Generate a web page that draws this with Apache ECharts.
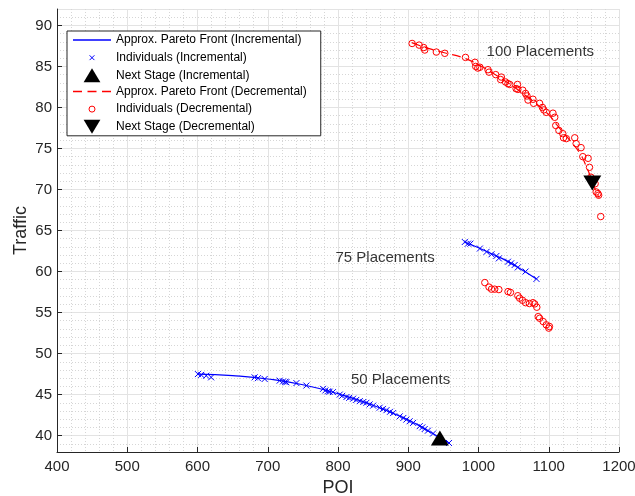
<!DOCTYPE html>
<html>
<head>
<meta charset="utf-8">
<script src="https://cdn.jsdelivr.net/npm/echarts@6/dist/echarts.min.js"></script>
<style>
  html, body { margin: 0; padding: 0; background: #fff; }
  #chart { width: 635px; height: 496px; }
</style>
</head>
<body>
<div id="chart"></div>
<script>
// x ticks and axis text
var xTicks = [400, 500, 600, 700, 800, 900, 1000, 1100, 1200]
var xName = 'POI'
var yName = 'Traffic'

// 50 placements (incremental)
var incFront50 = [[600, 47.5], [650, 47.3], [700, 46.9], [750, 46.2], [800, 45.1], [850, 43.7], [900, 41.9], [930, 40.5], [958, 39.1]]
var incInd50 = [
    [600.6, 47.5], [605.3, 47.4], [612.4, 47.3], [619.4, 47.1], [681.3, 47.1], [686, 47.0], [695.6, 46.9],
    [717, 46.7], [721.8, 46.6], [726.5, 46.5], [740.8, 46.4], [755, 46.1], [778.7, 45.7], [785.8, 45.4],
    [792.8, 45.3], [802.5, 45.0], [812, 44.7], [821.5, 44.5], [831, 44.2], [840.5, 44.0], [850, 43.65],
    [859.3, 43.4], [869, 43.1], [878.5, 42.75], [887.9, 42.35], [897.3, 41.95], [906.9, 41.55],
    [916.3, 41.15], [923.4, 40.8], [935.3, 40.25], [958, 39.1],
    [725, 46.55], [782, 45.5], [788, 45.35], [806, 44.85], [816, 44.6], [826, 44.35], [836, 44.1],
    [845, 43.8], [864, 43.25], [874, 42.9], [893, 42.15], [902, 41.75], [920, 41.0], [928, 40.6]
]
var incNext50 = [[945, 39.7]]

// 75 placements
var incFront75 = [[980, 63.6], [1000, 62.9], [1020, 62.1], [1040, 61.3], [1060, 60.3], [1082.5, 59.1]]
var incInd75 = [
    [980.5, 63.6], [985, 63.4], [988.5, 63.4], [1002, 62.8], [1011.5, 62.4], [1018.5, 62.1], [1025.5, 61.9],
    [1029, 61.6], [1042, 61.2], [1046.5, 61.0], [1051.5, 60.8], [1056, 60.5], [1067, 60.0], [1082.5, 59.1]
]
var decInd75 = [
    [1009, 58.65], [1015, 58.1], [1018.5, 57.85], [1023, 57.85], [1029, 57.8], [1042, 57.55], [1045.5, 57.45],
    [1056, 57.05], [1058.5, 56.75], [1062.5, 56.5], [1067, 56.2], [1072.5, 56.1], [1077.5, 56.2], [1080, 56.05],
    [1083, 55.65], [1085, 54.5], [1087, 54.3], [1092, 53.9], [1096.5, 53.5], [1100, 53.1], [1101, 53.3]
]

// 100 placements (decremental)
var decFront100 = [[905, 87.9], [925, 87.3], [950, 86.7], [980, 86.0], [1000, 85.2], [1020, 84.2], [1040, 83.1],
    [1060, 81.9], [1080, 80.6], [1100, 79.1], [1115, 77.5], [1130, 76.0], [1145, 74.3], [1155, 72.5],
    [1162, 71.0], [1168, 69.6], [1172, 69.0]]
var decInd100 = [
    [905.5, 87.8], [915.5, 87.6], [922, 87.3], [923.5, 87.0], [940, 86.75], [952, 86.6], [981.5, 86.1],
    [995, 85.5], [996, 85.0], [999, 84.8], [1002, 84.9], [1013.5, 84.6], [1015, 84.3], [1024.5, 84.0],
    [1032.5, 83.7], [1031.5, 83.4], [1038.5, 83.1], [1042, 82.9], [1044.5, 82.8], [1055.5, 82.8],
    [1053.5, 82.3], [1056, 82.2], [1063, 82.1], [1067, 81.7], [1069, 81.4], [1070.5, 80.9], [1077.5, 81.0],
    [1078.5, 80.5], [1087, 80.5], [1091, 80.0], [1093, 79.7], [1096.5, 79.4], [1106, 79.3], [1108.5, 78.8],
    [1110, 77.8], [1114.5, 77.2], [1120, 76.8], [1121, 76.3], [1125, 76.2], [1137, 76.3], [1139, 75.6],
    [1146, 75.1], [1148.5, 74.0], [1156, 73.8], [1158, 72.7], [1160, 71.5], [1166, 70.7], [1167.5, 69.7],
    [1170, 69.5], [1171, 69.3], [1174, 66.7]
]
var decNext100 = [[1162, 70.8]]

// annotations
var placementLabels = [[1088, 86.75, '100 Placements'], [867, 61.65, '75 Placements'], [889, 46.85, '50 Placements']]

var BLUE = '#0000ff'
var RED = '#ff0000'
var INK = '#262626'
var FONT = 'Liberation Sans, Arial, Helvetica, sans-serif'

var xSym = 'path://M0,0L10,10M10,0L0,10'
var triUp = 'path://M0,15L9,0L18,15z'
var triDown = 'path://M0,0L18,0L9,15z'

var chart = echarts.init(document.getElementById('chart'))

var option = {
    animation: false,
    backgroundColor: '#fff',
    grid: { left: 57, right: 16, top: 9, bottom: 44, outerBoundsMode: 'none', containLabel: false },
    legend: {
        orient: 'vertical',
        left: 67, top: 31,
        padding: [1, 14, 1, 6],
        itemWidth: 38, itemHeight: 14, itemGap: 0,
        backgroundColor: '#fff',
        borderColor: INK, borderWidth: 1,
        selectedMode: false,
        textStyle: { fontFamily: FONT, fontSize: 12, lineHeight: 16.2, color: '#000' },
        data: [
            { name: 'Approx. Pareto Front (Incremental)', icon: 'path://M0,0h38v1.5h-38z', itemStyle: { color: BLUE, borderWidth: 0 } },
            { name: 'Individuals (Incremental)', icon: 'path://M0,0M14,14M4.6,4.6L9.4,9.4M9.4,4.6L4.6,9.4', itemStyle: { color: 'none', borderColor: BLUE, borderWidth: 1 } },
            { name: 'Next Stage (Incremental)', icon: triUp, itemStyle: { color: '#000', borderWidth: 0 } },
            { name: 'Approx. Pareto Front (Decremental)', icon: 'path://M0,0h9v1.5h-9zM14.5,0h9v1.5h-9zM29,0h9v1.5h-9z', itemStyle: { color: RED, borderWidth: 0 } },
            { name: 'Individuals (Decremental)', icon: 'path://M0,0M14,14M10,7A3,3,0,1,1,4,7A3,3,0,1,1,10,7', itemStyle: { color: 'none', borderColor: RED, borderWidth: 1 } },
            { name: 'Next Stage (Decremental)', icon: triDown, itemStyle: { color: '#000', borderWidth: 0 } }
        ]
    },
    xAxis: {
        type: 'value', min: xTicks[0], max: xTicks[xTicks.length - 1], interval: 100,
        name: xName, nameLocation: 'middle', nameGap: 25,
        nameTextStyle: { fontFamily: FONT, fontSize: 18, color: INK },
        axisLine: { show: true, onZero: false, lineStyle: { color: INK, width: 1 } },
        axisTick: { show: true, inside: true, length: 5, lineStyle: { color: INK } },
        axisLabel: { fontFamily: FONT, fontSize: 15, color: INK, margin: 7, formatter: function (v) { return String(v) } },
        splitLine: { show: true, lineStyle: { color: '#e3e3e3', width: 1 } },
        minorTick: { show: false, splitNumber: 5 },
        minorSplitLine: { show: true, lineStyle: { color: '#d6d6d6', width: 1, type: [1, 2] } }
    },
    yAxis: {
        type: 'value', min: 38, max: 92, splitNumber: 10,
        name: yName, nameLocation: 'middle', nameGap: 36, nameMoveOverlap: false,
        nameTextStyle: { fontFamily: FONT, fontSize: 18, color: INK, verticalAlign: 'middle' },
        axisLine: { show: true, onZero: false, lineStyle: { color: INK, width: 1 } },
        axisTick: { show: true, inside: true, length: 5, lineStyle: { color: INK } },
        axisLabel: { fontFamily: FONT, fontSize: 15, color: INK, margin: 5, showMinLabel: false, showMaxLabel: false },
        splitLine: { show: true, lineStyle: { color: '#e3e3e3', width: 1 } },
        minorTick: { show: false, splitNumber: 5 },
        minorSplitLine: { show: true, lineStyle: { color: '#d6d6d6', width: 1, type: [1, 2] } }
    },
    series: [
        {
            name: 'Approx. Pareto Front (Incremental)', type: 'line', data: incFront50,
            symbol: 'none', smooth: true, lineStyle: { color: BLUE, width: 1.2 }, itemStyle: { color: BLUE }, z: 2
        },
        {
            name: 'Approx. Pareto Front (Incremental)', type: 'line', data: incFront75,
            symbol: 'none', smooth: true, lineStyle: { color: BLUE, width: 1.2 }, itemStyle: { color: BLUE }, z: 2
        },
        {
            name: 'Individuals (Incremental)', type: 'scatter', data: incInd50.concat(incInd75),
            symbol: xSym, symbolSize: 6,
            itemStyle: { color: 'none', borderColor: BLUE, borderWidth: 1, opacity: 1 }, z: 3
        },
        {
            name: 'Next Stage (Incremental)', type: 'scatter', data: incNext50,
            symbol: triUp, symbolSize: [18, 15], itemStyle: { color: '#000', opacity: 1 }, z: 5
        },
        {
            name: 'Approx. Pareto Front (Decremental)', type: 'line', data: decFront100,
            symbol: 'none', smooth: true, lineStyle: { color: RED, width: 1.2, type: [9, 5] }, itemStyle: { color: RED }, z: 2
        },
        {
            name: 'Individuals (Decremental)', type: 'scatter', data: decInd100.concat(decInd75),
            symbol: 'circle', symbolSize: 6.5,
            itemStyle: { color: 'none', borderColor: RED, borderWidth: 1, opacity: 1 }, z: 3
        },
        {
            name: 'Next Stage (Decremental)', type: 'scatter', data: decNext100,
            symbol: triDown, symbolSize: [18, 15], itemStyle: { color: '#000', opacity: 1 }, z: 5
        },
        {
            name: 'labels', type: 'scatter', data: placementLabels, symbolSize: 0, silent: true,
            label: {
                show: true, position: 'inside', color: '#000', fontFamily: FONT, fontSize: 15,
                formatter: function (p) { return p.value[2] }
            }, z: 4
        }
    ]
}
chart.setOption(option)
</script>
</body>
</html>
